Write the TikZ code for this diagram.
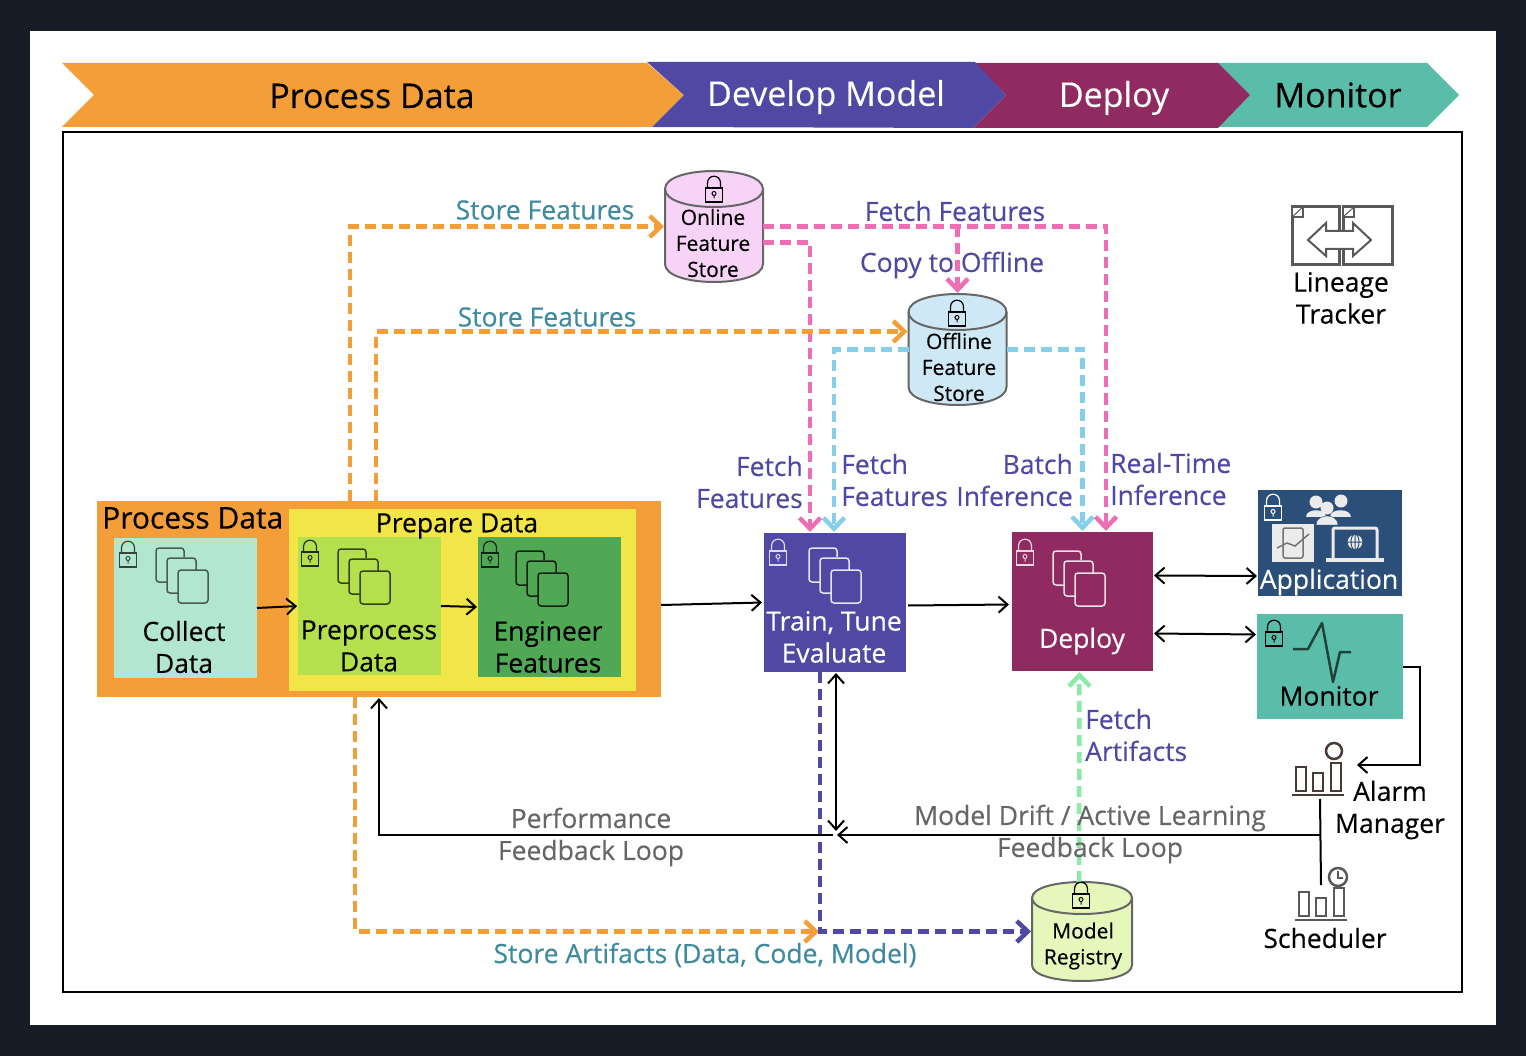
\documentclass[tikz,border=0pt]{standalone}
\usepackage{fontspec}
\setmainfont{Open Sans}[FakeBold = 0.3]
\usetikzlibrary{arrows.meta,positioning}
\definecolor{darkback}{HTML}{161D26}
\definecolor{procorange}{HTML}{F39E38}
\definecolor{prepyellow}{HTML}{F1E548}
\definecolor{collectgreen}{HTML}{B2E6D0}
\definecolor{prepgreen}{HTML}{B5E04E}
\definecolor{enggreen}{HTML}{50A855}
\definecolor{modelblue}{HTML}{5049A4}
\definecolor{deployred}{HTML}{8F2B60}
\definecolor{appblue}{HTML}{2B4F78}
\definecolor{monteal}{HTML}{5ABDAA}
\definecolor{onlinefill}{HTML}{F7D3F7}
\definecolor{offlinefill}{HTML}{CFE8F5}
\definecolor{registryfill}{HTML}{E6F7BC}
\definecolor{flowpink}{HTML}{EE6DB4}
\definecolor{flowsky}{HTML}{86CFE8}
\definecolor{flowmint}{HTML}{8EE8A8}
\definecolor{labelteal}{HTML}{3E8A9E}
\definecolor{labelgray}{HTML}{666666}
\definecolor{iconbrown}{HTML}{4A3A36}
\newcommand{\txtchev}{\fontsize{34}{38}\selectfont}
\newcommand{\txtbig}{\fontsize{30}{36}\selectfont}
\newcommand{\txtmid}{\fontsize{26.5}{32}\selectfont}
\newcommand{\txtcyl}{\fontsize{21}{26}\selectfont}
\tikzset{
  stagebox/.style = {shape = rectangle, inner sep = 0pt, outer sep = 0pt},
  boxlabel/.style = {font = \txtmid, align = center, inner sep = 0pt},
  cyllabel/.style = {font = \txtcyl, align = center, inner sep = 0pt},
  teallabel/.style = {boxlabel, text = labelteal},
  purplelabel/.style = {boxlabel, text = modelblue},
  graylabel/.style = {boxlabel, text = labelgray},
  chevlabel/.style = {font = \txtchev, inner sep = 0pt},
  storespot/.style = {stagebox, minimum width = 98pt, minimum height = 111pt},
  blackline/.style = {line width = 2pt, -{Straight Barb[length = 9pt, width = 16pt]}, shorten > = 1pt},
  blackdouble/.style = {line width = 2pt, {Straight Barb[length = 9pt, width = 16pt]}-{Straight Barb[length = 9pt, width = 16pt]}, shorten > = 1pt, shorten < = 1pt},
  dashflow/.style = {line width = 4.5pt, dash pattern = on 11pt off 6pt, -{Straight Barb[length = 11pt, width = 21pt]}, shorten > = 1pt},
  lockicon/.pic = {
    \draw[line width = 1.2pt] (-8.5,0) rectangle (8.5,14);
    \draw[line width = 1.2pt] (-6.5,0) -- (-6.5,-5) .. controls (-6.5,-14) and (6.5,-14) .. (6.5,-5) -- (6.5,0);
    \draw[line width = 1pt] (0,5.5) circle[radius = 2] (0,7.5) -- (0,10.5);
  },
  pagesicon/.pic = {
    \draw[line width = 1.5pt, rounded corners = 3pt] (28,9) -- (28,0) -- (0,0) -- (0,34) -- (11,34);
    \draw[line width = 1.5pt, rounded corners = 3pt] (40,22) -- (40,10) -- (11,10) -- (11,45) -- (22,45);
    \draw[line width = 1.5pt, rounded corners = 3pt] (22,22) rectangle (52,55);
  },
  barsicon/.pic = {
    \draw[line width = 2.5pt] (-25,0) -- (27,0);
    \draw[line width = 2.5pt] (-21,-4) rectangle (-11,-28);
    \draw[line width = 2.5pt] (-4,-4) rectangle (6,-22);
    \draw[line width = 2.5pt] (14,-4) rectangle (24,-32);
  },
  pics/cylicon/.style n args = {4}{code = {
    \filldraw[draw = black!60, fill = #4, line width = 2pt] (-#1,-#2+#3) -- (-#1,#2-#3) .. controls (-#1,#2+#3/3) and (#1,#2+#3/3) .. (#1,#2-#3) -- (#1,-#2+#3) .. controls (#1,-#2-#3/3) and (-#1,-#2-#3/3) .. cycle;
    \draw[draw = black!60, line width = 2pt] (-#1,-#2+#3) .. controls (-#1,-#2+#3*7/3) and (#1,-#2+#3*7/3) .. (#1,-#2+#3);
  }}
}
\begin{document}
\begin{tikzpicture}[x = 1pt, y = -1pt]
\useasboundingbox (0,0) rectangle (1526,1056);
\fill[darkback] (0,0) rectangle (1526,1056);
\fill[white] (30,31) rectangle (1496,1025);

\fill[procorange] (62,63) -- (647,63) -- (684,95) -- (652,127) -- (62,127) -- (94,95) -- cycle;
\fill[monteal] (1218,63) -- (1427,63) -- (1459,95) -- (1427,127) -- (1218,127) -- (1250,95) -- cycle;
\fill[deployred] (975,63) -- (1218,63) -- (1250,95) -- (1218,128) -- (973,128) -- (1006,95) -- cycle;
\fill[modelblue] (647,62) -- (975,62) -- (1006,95) -- (973,128) -- (652,127) -- (684,95) -- cycle;
\node[chevlabel] (chevprocess) at (372,96) {Process Data};
\node[chevlabel, text = white] (chevmodel) at (826,97) {Develop Model};
\node[chevlabel, text = white] (chevdeploy) at (1114,98) {Deploy};
\node[chevlabel] (chevmonitor) at (1338,95) {Monitor};

\draw[line width = 2pt] (63,132) rectangle (1462,992);

\node[stagebox, fill = procorange, minimum width = 564pt, minimum height = 196pt] (procbox) at (379,599) {};
\node[stagebox, fill = prepyellow, minimum width = 347pt, minimum height = 182pt] (prepbox) at (462.5,600) {};
\node[stagebox, fill = collectgreen, minimum width = 143pt, minimum height = 140pt] (collect) at (185.5,608) {};
\node[stagebox, fill = prepgreen, minimum width = 143pt, minimum height = 138pt] (preprocess) at (369.5,606) {};
\node[stagebox, fill = enggreen, minimum width = 143pt, minimum height = 140pt] (engineer) at (549.5,607) {};
\node[stagebox, fill = modelblue, minimum width = 142pt, minimum height = 139pt] (train) at (835,602.5) {};
\node[stagebox, fill = deployred, minimum width = 141pt, minimum height = 139pt] (deploy) at (1082.5,601.5) {};
\node[stagebox, fill = appblue, minimum width = 144pt, minimum height = 106pt] (application) at (1330,543) {};
\node[stagebox, fill = monteal, minimum width = 146pt, minimum height = 105pt] (monitor) at (1330,666.5) {};

\node[storespot] (online) at (714,226.5) {};
\node[storespot] (offline) at (957.5,349.5) {};
\node[stagebox, minimum width = 100pt, minimum height = 99pt] (registry) at (1082,931.5) {};
\pic at (online.center) {cylicon = {49}{55.5}{18}{onlinefill}};
\pic at (offline.center) {cylicon = {49}{55.5}{18}{offlinefill}};
\pic at (registry.center) {cylicon = {50}{49.5}{16}{registryfill}};
\node[stagebox, minimum width = 52pt, minimum height = 56pt] (alarmspot) at (1320,771) {};
\node[stagebox, minimum width = 52pt, minimum height = 36pt] (schedspot) at (1321,903) {};

\coordinate (feedjoin) at (1320,835);
\coordinate (feedend) at (833,835);
\coordinate (feedtop) at (836,832);

\draw[dashflow, flowsky] (offline.west) -| ([xshift = -1pt]train.north);
\draw[dashflow, flowsky] (offline.east) -| (deploy.north);
\draw[dashflow, flowpink] ([yshift = -16pt]online.east) -| ([xshift = -25pt]train.north);
\draw[dashflow, flowpink] (online.east) -| ([xshift = 23.5pt]deploy.north);
\draw[dashflow, flowpink] (offline.north |- online.east) -- (offline.north);
\draw[dashflow, procorange] ([xshift = -29pt]procbox.north) |- (online.west);
\draw[dashflow, procorange] ([xshift = -3pt]procbox.north) |- ([yshift = 18pt]offline.west);
\draw[dashflow, procorange] ([xshift = -24pt]procbox.south) |- ([xshift = -15pt]train.south |- registry.west);
\draw[dashflow, modelblue] ([xshift = -15pt]train.south) |- (registry.west);
\draw[dashflow, flowmint] ([xshift = -3pt]registry.north) -- ([xshift = -3pt]deploy.south);

\draw[blackline] (collect.east) -- (preprocess.west);
\draw[blackline] (preprocess.east) -- (engineer.west);
\draw[blackline] ([yshift = -6pt]procbox.east) -- ([xshift = -1pt]train.west);
\draw[blackline] ([xshift = 2pt, yshift = -3pt]train.east) -- ([xshift = -2pt, yshift = -3pt]deploy.west);
\draw[blackdouble] ([yshift = 26pt]deploy.east) -- ([yshift = -33pt]application.west);
\draw[blackdouble] ([yshift = -32pt]deploy.east) -- ([yshift = 32pt]monitor.west);
\draw[blackline] (monitor.east) -- ++(17,0) |- ([xshift = 10pt, yshift = 6pt]alarmspot.east);
\draw[line width = 2pt] (alarmspot.south) -- (schedspot.north);
\draw[blackline] (feedjoin) -- ([xshift = 3pt]feedend);
\draw[blackline] (feedend) -| (procbox.south);
\draw[blackdouble] ([xshift = 1pt]train.south) -- (feedtop);

\node[font = \txtbig, anchor = west, inner sep = 0pt] (proctitle) at (102,518) {Process Data};
\node[boxlabel] (preptitle) at (457,526) {Prepare Data};
\node[boxlabel] (collecttext) at (184,647) {Collect\\Data};
\node[boxlabel] (preproctext) at (369,646) {Preprocess\\Data};
\node[boxlabel] (engtext) at (548,647) {Engineer\\Features};
\node[boxlabel, text = white] (traintext) at (834,637) {Train, Tune\\Evaluate};
\node[boxlabel, text = white] (deploytext) at (1082,641) {Deploy};
\node[boxlabel, text = white] (apptext) at (1329,582) {Application};
\node[boxlabel] (montext) at (1329,696) {Monitor};
\node[cyllabel] (onlinetext) at (713,243) {Online\\Feature\\Store};
\node[cyllabel] (offlinetext) at (959,367) {Offline\\Feature\\Store};
\node[cyllabel] (registrytext) at (1083,946) {Model\\Registry};

\node[teallabel] (storeonline) at (545,210) {Store Features};
\node[teallabel] (storeoffline) at (547,317) {Store Features};
\node[teallabel] (storeartifacts) at (705,955) {Store Artifacts (Data, Code, Model)};
\node[purplelabel] (fetchtop) at (955,211) {Fetch Features};
\node[purplelabel] (copyoffline) at (952,265) {Copy to Offline};
\node[purplelabel, align = right, anchor = east] (fetchonline) at (803,482) {Fetch\\Features};
\node[purplelabel, align = left, anchor = west] (fetchoffline) at (841,480) {Fetch\\Features};
\node[purplelabel, align = right, anchor = east] (batchtext) at (1073,480) {Batch\\Inference};
\node[purplelabel, align = left, anchor = west] (realtimetext) at (1110,479) {Real-Time\\Inference};
\node[purplelabel, align = left, anchor = west] (fetchart) at (1085,735) {Fetch\\Artifacts};
\node[graylabel] (perftext) at (591,837) {Performance\\Feedback Loop};
\node[graylabel] (drifttext) at (1090,834) {Model Drift / Active Learning\\Feedback Loop};
\node[boxlabel] (lineagetext) at (1341,298) {Lineage\\Tracker};
\node[boxlabel] (alarmtext) at (1390,810) {Alarm\\Manager};
\node[boxlabel] (schedtext) at (1325,938) {Scheduler};

\pic[draw = black!70!collectgreen] at (128,553) {lockicon};
\pic[draw = black!80!prepgreen] at (310,552) {lockicon};
\pic[draw = black!80!enggreen] at (490,553) {lockicon};
\pic[draw = white!80!modelblue] at (778,551) {lockicon};
\pic[draw = white!80!deployred] at (1025,551) {lockicon};
\pic[draw = white] at (1273,506) {lockicon};
\pic[draw = black] at (1274,632) {lockicon};
\pic[draw = black] at (714,188) {lockicon};
\pic[draw = black] at (957,312) {lockicon};
\pic[draw = black] at (1081,894) {lockicon};

\pic[draw = black!60!collectgreen] at (156,548) {pagesicon};
\pic[draw = black!70!prepgreen] at (338,549) {pagesicon};
\pic[draw = black!80!enggreen] at (516,551) {pagesicon};
\pic[draw = white!85!modelblue] at (809,548) {pagesicon};
\pic[draw = white!85!deployred] at (1053,551) {pagesicon};

\draw[line width = 2.5pt, black!65!monteal, line join = round] (1293,649) -- (1308,649) -- (1322,623) -- (1333,682) -- (1340,652) -- (1351,652);

\fill[black!8] (1272,524) rectangle (1314,562);
\draw[black!55, line width = 1.5pt, rounded corners = 2pt] (1283,528) rectangle (1303,558);
\draw[black!55, line width = 1.5pt] (1277,548) -- (1287,543) -- (1295,546) -- (1309,534);
\fill[black!8] (1316,502) circle[radius = 6.5] (1341,501) circle[radius = 6.5] (1327,508) circle[radius = 6.5];
\fill[black!8] (1306,517) .. controls (1306,508) and (1326,508) .. (1326,517) -- cycle;
\fill[black!8] (1330,517) .. controls (1330,508) and (1351,508) .. (1351,517) -- cycle;
\fill[black!8, draw = appblue] (1316,525) .. controls (1316,513) and (1338,513) .. (1338,525) -- cycle;
\draw[black!8, line width = 3pt, rounded corners = 2pt, fill = appblue] (1333,558) -- (1333,528) -- (1377,528) -- (1377,558);
\fill[black!8] (1326,558) rectangle (1384,562);
\fill[black!8] (1355,542) circle[radius = 8];
\draw[appblue, line width = 1pt] (1355,542) circle[radius = 8] (1347,542) -- (1363,542) (1355,534) -- (1355,550) (1355,542) ellipse[x radius = 4, y radius = 8];

\draw[black!65, line width = 3pt] (1292,207) rectangle (1339,265);
\draw[black!65, line width = 3pt] (1343,207) rectangle (1392,265);
\draw[black!65, line width = 1.5pt, fill = white] (1292,207) -- (1303,207) -- (1303,217) -- (1292,217) -- cycle;
\draw[black!65, line width = 1.5pt, fill = white] (1343,207) -- (1354,207) -- (1354,217) -- (1343,217) -- cycle;
\draw[black!65, line width = 1pt] (1292,217) -- (1303,207) (1343,217) -- (1354,207);
\draw[black!65, line width = 2pt, fill = white] (1308,240) -- (1326,223) -- (1326,231) -- (1353,231) -- (1353,223) -- (1371,240) -- (1353,256) -- (1353,249) -- (1326,249) -- (1326,256) -- cycle;

\pic[draw = iconbrown] at (1317,795) {barsicon};
\draw[iconbrown, line width = 2.5pt] (1334,751) circle[radius = 8];
\pic[draw = black!65] at (1320,920) {barsicon};
\draw[black!65, line width = 2.5pt] (1338,877) circle[radius = 9];
\draw[black!65, line width = 2pt] (1338,871) -- (1338,878) -- (1343,878);
\end{tikzpicture}
\end{document}
